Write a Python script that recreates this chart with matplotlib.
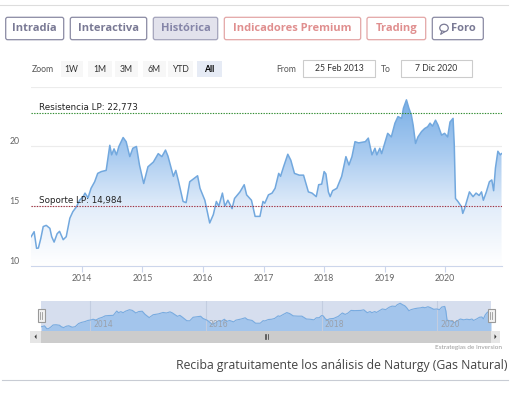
import numpy as np
import matplotlib
matplotlib.use("Agg")
import matplotlib.pyplot as plt
from matplotlib.patches import FancyBboxPatch, Rectangle, Ellipse, Polygon
from matplotlib.colors import LinearSegmentedColormap

# price history (decimal years, EUR)
years = [2013.16, 2013.21, 2013.25, 2013.28, 2013.32, 2013.36, 2013.41, 2013.47, 2013.50, 2013.54,
         2013.59, 2013.63, 2013.69, 2013.74, 2013.80, 2013.85, 2013.91, 2013.96, 2014.02, 2014.05,
         2014.10, 2014.15, 2014.21, 2014.26, 2014.32, 2014.40, 2014.46, 2014.49, 2014.53, 2014.57,
         2014.61, 2014.68, 2014.73, 2014.79, 2014.84, 2014.90, 2014.95, 2015.02, 2015.09, 2015.18,
         2015.26, 2015.32, 2015.38, 2015.42, 2015.51, 2015.55, 2015.59, 2015.67, 2015.72, 2015.78,
         2015.91, 2015.95, 2016.03, 2016.06, 2016.11, 2016.17, 2016.22, 2016.26, 2016.32, 2016.36,
         2016.41, 2016.48, 2016.52, 2016.61, 2016.68, 2016.72, 2016.80, 2016.86, 2016.94, 2016.99,
         2017.02, 2017.08, 2017.14, 2017.19, 2017.25, 2017.28, 2017.33, 2017.40, 2017.45, 2017.51,
         2017.59, 2017.66, 2017.74, 2017.80, 2017.87, 2017.91, 2017.96, 2018.00, 2018.03, 2018.07,
         2018.10, 2018.14, 2018.21, 2018.29, 2018.36, 2018.41, 2018.46, 2018.51, 2018.57, 2018.68,
         2018.73, 2018.79, 2018.84, 2018.87, 2018.92, 2018.95, 2019.00, 2019.05, 2019.11, 2019.17,
         2019.22, 2019.28, 2019.31, 2019.36, 2019.40, 2019.44, 2019.47, 2019.51, 2019.55, 2019.61,
         2019.66, 2019.71, 2019.75, 2019.79, 2019.84, 2019.88, 2019.94, 2019.99, 2020.04, 2020.08,
         2020.13, 2020.15, 2020.17, 2020.21, 2020.27, 2020.29, 2020.32, 2020.36, 2020.40, 2020.46,
         2020.51, 2020.56, 2020.60, 2020.63, 2020.68, 2020.73, 2020.77, 2020.80, 2020.83, 2020.87,
         2020.91, 2020.93]
prices = [12.45, 12.87, 11.48, 11.5, 12.3, 13.3, 13.4, 13.15, 12.45, 12.0,
          12.7, 12.9, 12.2, 12.45, 14.0, 14.55, 14.96, 15.5, 15.8, 16.1,
          15.7, 16.5, 17.05, 17.75, 17.9, 18.0, 20.1, 19.3, 19.8, 19.3,
          20.0, 20.75, 20.4, 19.15, 19.85, 20.0, 18.45, 16.9, 18.3, 18.7,
          19.4, 19.15, 19.7, 19.2, 17.5, 18.0, 17.2, 15.4, 15.3, 17.05,
          17.55, 16.5, 15.5, 14.8, 13.6, 14.3, 15.4, 15.0, 16.1, 15.0,
          15.5, 14.8, 15.65, 16.2, 16.8, 15.95, 15.5, 14.15, 14.15, 15.4,
          15.25, 15.95, 16.1, 16.5, 17.75, 17.5, 18.3, 19.35, 18.85, 17.75,
          17.6, 17.6, 16.2, 16.1, 15.8, 16.8, 16.85, 17.9, 17.7, 16.2,
          15.8, 16.3, 16.5, 17.5, 19.15, 18.45, 19.15, 20.4, 20.3, 20.4,
          20.7, 19.3, 19.85, 19.3, 19.85, 19.4, 20.25, 21.1, 20.8, 21.95,
          22.5, 22.35, 23.2, 23.9, 23.2, 22.65, 21.8, 20.25, 20.8, 21.25,
          21.5, 21.65, 21.95, 21.7, 22.2, 21.8, 20.95, 21.1, 20.8, 22.05,
          22.35, 20.1, 15.65, 15.4, 14.95, 14.4, 14.8, 15.5, 16.2, 15.8,
          16.1, 15.9, 16.2, 15.5, 16.2, 17.05, 17.2, 16.3, 18.2, 19.6,
          19.3, 19.4]

resistencia = 22.773
soporte = 14.984
y_ticks = [10, 15, 20]
x_ticks = [2014, 2015, 2016, 2017, 2018, 2019, 2020]
nav_ticks = [2014, 2016, 2018, 2020]
x_start, x_end = 2013.15, 2020.93

W, H = 515, 395
fig = plt.figure(figsize=(W / 100, H / 100), dpi=100)
plt.rcParams['font.family'] = ['Lato', 'DejaVu Sans']


def px_axes(x0, y0, x1, y1, **kw):
    return fig.add_axes([x0 / W, 1 - y1 / H, (x1 - x0) / W, (y1 - y0) / H], **kw)


# overlay in pixel coordinates for the page chrome
bg = px_axes(0, 0, W, H)
bg.set_xlim(0, W)
bg.set_ylim(H, 0)
bg.axis('off')
bg.set_zorder(-1)

bg.plot([0, 508], [5, 5], color='#dddddd', lw=0.8)
bg.plot([2, 508], [380, 380], color='#c8ccd4', lw=0.8)

# tab buttons
tabs = [("Intradía", 5.7, 63.7, '#8a8aa3', '#7a7a95', 'white'),
        ("Interactiva", 70.3, 146.7, '#8a8aa3', '#7a7a95', 'white'),
        ("Histórica", 153.3, 217.7, '#a3a3bb', '#8585a8', '#e2e2ec'),
        ("Indicadores Premium", 224.3, 360.7, '#e3a6a6', '#e08f8f', 'white'),
        ("Trading", 367.0, 425.7, '#e3a6a6', '#e08f8f', 'white'),
        ("Foro", 432.3, 483.3, '#8a8aa3', '#7a7a95', 'white')]
for label, x0, x1, ec, tc, fc in tabs:
    bg.add_patch(FancyBboxPatch((x0, 17.3), x1 - x0, 22.4,
                                boxstyle="round,pad=0,rounding_size=2",
                                fc=fc, ec=ec, lw=0.9))
    tx = (x0 + x1) / 2
    if label == "Foro":
        tx += 6
        bg.add_patch(Ellipse((444, 28.0), 8.5, 7.5, fc='none', ec=tc, lw=0.9))
        bg.add_patch(Polygon([[442, 31], [440.5, 34.5], [445, 31.5]], closed=True,
                             fc='white', ec=tc, lw=0.8))
    bg.text(tx, 28.6, label, ha='center', va='center', fontsize=8.0,
            fontweight='bold', color=tc, family=['Open Sans', 'DejaVu Sans'])

# range selector row
bg.text(31.7, 69, "Zoom", ha='left', va='center', fontsize=6.2, color='#555555')
ranges = [("1W", 60.7, 82.7), ("1M", 88.3, 111.7), ("3M", 115.0, 138.0),
          ("6M", 142.7, 165.7), ("YTD", 168.3, 193.3), ("All", 196.7, 222.3)]
for label, x0, x1 in ranges:
    sel = label == "All"
    bg.add_patch(Rectangle((x0, 61), x1 - x0, 15.7, fc='#e6ebf5' if sel else '#f7f7f7',
                           ec='none'))
    bg.text((x0 + x1) / 2, 69, label, ha='center', va='center', fontsize=6.2,
            color='#000000' if sel else '#333333',
            fontweight='bold' if sel else 'normal')
bg.text(276.7, 69, "From", ha='left', va='center', fontsize=6.2, color='#555555')
bg.text(381, 69, "To", ha='left', va='center', fontsize=6.2, color='#555555')
for label, x0, x1 in [("25 Feb 2013", 303.3, 375.0), ("7 Dic 2020", 401.0, 471.7)]:
    bg.add_patch(Rectangle((x0, 60), x1 - x0, 16.7, fc='white', ec='#cccccc', lw=0.8))
    bg.text((x0 + x1) / 2, 68.5, label, ha='center', va='center', fontsize=6.2,
            color='#333333')

# main price chart
ax = px_axes(30.5, 86.7, 501.5, 266)
ax.set_xlim(x_start, x_end)
ax.set_ylim(10, 25)
for s in ax.spines.values():
    s.set_visible(False)
ax.spines['bottom'].set_visible(True)
ax.spines['bottom'].set_color('#ccd6eb')
ax.set_yticks(y_ticks + [25])
ax.set_yticklabels([str(v) for v in y_ticks] + [''])
ax.yaxis.grid(True, color='#ececec', lw=0.8)
ax.set_axisbelow(True)
ax.tick_params(axis='y', length=0, pad=8, labelsize=6.3, labelcolor='#666666')
ax.set_xticks(x_ticks)
ax.set_xticklabels([str(v) for v in x_ticks])
ax.tick_params(axis='x', length=4, color='#ccd6eb', pad=2, labelsize=6.3,
               labelcolor='#666666')
for lbl in ax.get_yticklabels():
    lbl.set_verticalalignment('bottom')

grad = LinearSegmentedColormap.from_list('g', ['#ffffff', '#e4eefa', '#a9cbf0', '#78aee6'])
img = ax.imshow(np.linspace(0, 1, 256).reshape(-1, 1), extent=[x_start, x_end, 10, 24],
                origin='lower', aspect='auto', cmap=grad, zorder=1)
poly = ax.fill_between(years, prices, 10, color='none', lw=0)
img.set_clip_path(poly.get_paths()[0], transform=ax.transData)
ax.plot(years, prices, color='#72a8de', lw=1.1, zorder=3)

ax.axhline(resistencia, color='#2e8b2e', lw=0.8, ls=(0, (1.2, 1.2)), zorder=4)
ax.axhline(soporte, color='#a03040', lw=0.8, ls=(0, (1.2, 1.2)), zorder=4)
ax.text(2013.29, resistencia + 0.15, "Resistencia LP: 22,773", fontsize=6.3,
        color='#222222', va='bottom', zorder=5, family=['DejaVu Sans'])
ax.text(2013.29, soporte + 0.15, "Soporte LP: 14,984", fontsize=6.3,
        color='#222222', va='bottom', zorder=5, family=['DejaVu Sans'])

# navigator
nav = px_axes(41, 301, 491, 330.7)
nav.set_xlim(x_start, x_end)
nav.set_ylim(10.5, 25)
nav.set_facecolor('#d6deee')
for s in nav.spines.values():
    s.set_visible(False)
nav.set_yticks([])
nav.set_xticks(nav_ticks)
nav.set_xticklabels([])
nav.xaxis.grid(True, color='#c3cde0', lw=0.8)
nav.tick_params(axis='x', length=0)
nav.fill_between(years, prices, 10.5, color='#a3c5ec', lw=0)
nav.plot(years, prices, color='#78abe0', lw=0.8)
for yr in nav_ticks:
    nav.text(yr + 0.05, 11.2, str(yr), fontsize=5.6, color='#9aa0aa', ha='left',
             va='bottom', family=['DejaVu Sans'])

# scrollbar
scroll = px_axes(30, 330.7, 500, 342.7)
scroll.set_xlim(30, 500)
scroll.set_ylim(0, 1)
scroll.axis('off')
scroll.add_patch(Rectangle((41, 0), 450, 1, fc='#cccccc', ec='none'))
scroll.add_patch(Rectangle((30, 0), 11, 1, fc='#e6e6e6', ec='none'))
scroll.add_patch(Rectangle((491, 0), 9, 1, fc='#e6e6e6', ec='none'))
scroll.add_patch(Polygon([[36.5, 0.3], [36.5, 0.7], [34.5, 0.5]], fc='#333333', ec='none'))
scroll.add_patch(Polygon([[494.5, 0.3], [494.5, 0.7], [496.5, 0.5]], fc='#333333', ec='none'))
for gx in (264.5, 266, 267.5):
    scroll.plot([gx, gx], [0.3, 0.7], color='#333333', lw=0.5)

# navigator handles on a top overlay
top = px_axes(0, 0, W, H)
top.set_xlim(0, W)
top.set_ylim(H, 0)
top.axis('off')
top.patch.set_alpha(0)
for hx in (41, 491):
    top.add_patch(Rectangle((hx - 3.5, 309), 7, 13, fc='#f2f2f2', ec='#999999', lw=0.8))
    top.plot([hx - 1, hx - 1], [312, 319], color='#999999', lw=0.6)
    top.plot([hx + 1, hx + 1], [312, 319], color='#999999', lw=0.6)

bg.text(502, 347, "Estrategias de Inversion", ha='right', va='center', fontsize=4.6,
        color='#999999')
bg.text(507, 366, "Reciba gratuitamente los análisis de Naturgy (Gas Natural)",
        ha='right', va='center', fontsize=8.85, color='#444444',
        family=['Open Sans', 'DejaVu Sans'])

fig.savefig("out.png", dpi=100)
